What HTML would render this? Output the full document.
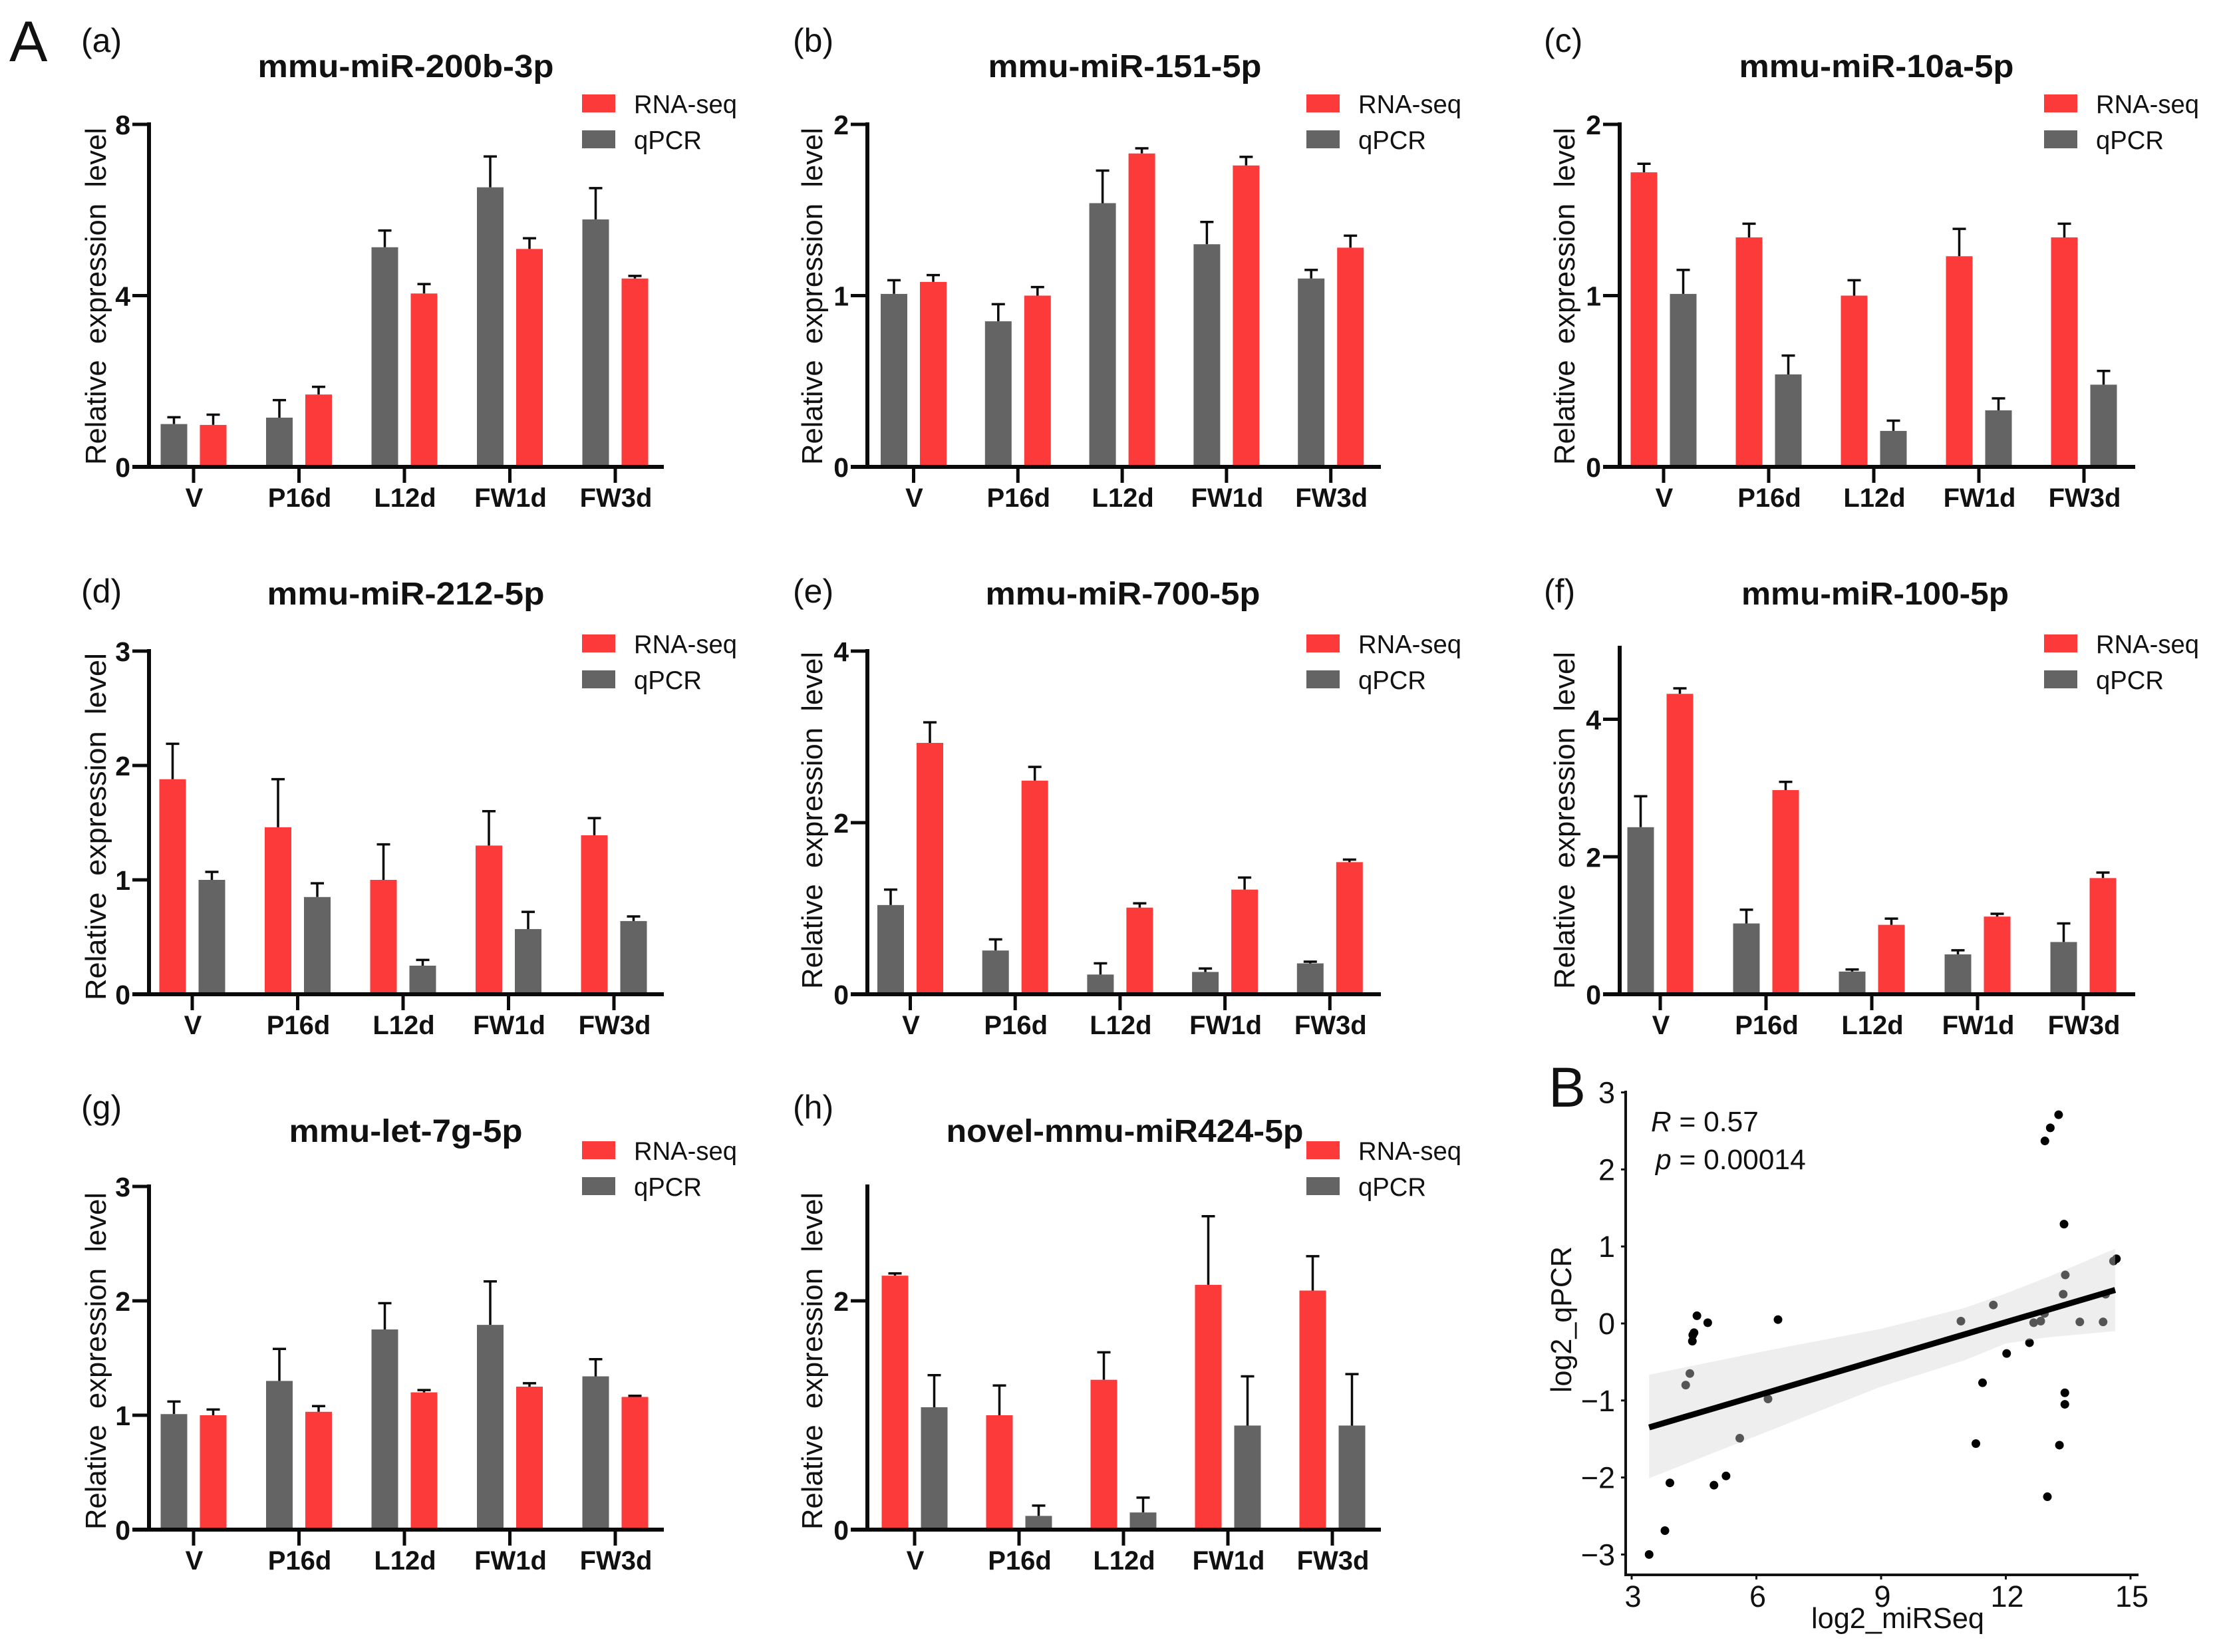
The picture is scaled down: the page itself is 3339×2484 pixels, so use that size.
<!DOCTYPE html>
<html lang="en">
<head>
<meta charset="utf-8">
<title>miRNA expression validation</title>
<style>
html,body{margin:0;padding:0;background:#fff;}
svg{display:block;}
text{font-family:"Liberation Sans",Arial,sans-serif;fill:#111;white-space:pre;}
</style>
</head>
<body>
<svg id="fig" xmlns="http://www.w3.org/2000/svg" width="3339" height="2484" viewBox="0 0 3339 2484">
<text x="14" y="92" font-size="86">A</text>
<text x="2328" y="1664" font-size="84">B</text>
</svg>
<script>
const categories = ['V','P16d','L12d','FW1d','FW3d'];

const a_qpcr = [1.0,1.15,5.13,6.53,5.78];
const a_qpcr_top = [1.16,1.56,5.52,7.25,6.51];
const a_rna = [0.98,1.69,4.05,5.09,4.4];
const a_rna_top = [1.22,1.87,4.27,5.34,4.46];
const a_ticks = [0,4,8];

const b_qpcr = [1.01,0.85,1.54,1.30,1.10];
const b_qpcr_top = [1.09,0.95,1.73,1.43,1.15];
const b_rna = [1.08,1.0,1.83,1.76,1.28];
const b_rna_top = [1.12,1.05,1.86,1.81,1.35];
const b_ticks = [0,1,2];

const c_rna = [1.72,1.34,1.0,1.23,1.34];
const c_rna_top = [1.77,1.42,1.09,1.39,1.42];
const c_qpcr = [1.01,0.54,0.21,0.33,0.48];
const c_qpcr_top = [1.15,0.65,0.27,0.40,0.56];
const c_ticks = [0,1,2];

const d_rna = [1.88,1.46,1.0,1.30,1.39];
const d_rna_top = [2.19,1.88,1.31,1.6,1.54];
const d_qpcr = [1.0,0.85,0.25,0.57,0.64];
const d_qpcr_top = [1.07,0.97,0.3,0.72,0.68];
const d_ticks = [0,1,2,3];

const e_qpcr = [1.04,0.51,0.23,0.26,0.36];
const e_qpcr_top = [1.22,0.64,0.36,0.3,0.38];
const e_rna = [2.93,2.49,1.01,1.22,1.54];
const e_rna_top = [3.17,2.65,1.06,1.36,1.57];
const e_ticks = [0,2,4];

const f_qpcr = [2.43,1.03,0.33,0.58,0.76];
const f_qpcr_top = [2.88,1.23,0.36,0.64,1.03];
const f_rna = [4.37,2.97,1.01,1.13,1.69];
const f_rna_top = [4.45,3.09,1.1,1.17,1.77];
const f_ticks = [0,2,4];

const g_qpcr = [1.01,1.3,1.75,1.79,1.34];
const g_qpcr_top = [1.12,1.58,1.98,2.17,1.49];
const g_rna = [1.0,1.03,1.2,1.25,1.16];
const g_rna_top = [1.05,1.08,1.22,1.28,1.17];
const g_ticks = [0,1,2,3];

const h_rna = [2.22,1.0,1.31,2.14,2.09];
const h_rna_top = [2.24,1.26,1.55,2.74,2.39];
const h_qpcr = [1.07,0.12,0.15,0.91,0.91];
const h_qpcr_top = [1.35,0.21,0.28,1.34,1.36];
const h_ticks = [0,2];

const scatter_x = [3.42,3.8,3.92,4.3,4.4,4.46,4.47,4.5,4.57,4.83,4.98,5.27,5.6,6.28,6.52,10.92,11.28,11.44,11.7,12.02,12.57,12.67,12.84,12.93,12.94,13.0,13.07,13.27,13.29,13.38,13.4,13.42,13.42,13.43,13.78,14.34,14.4,14.59,14.66];
const scatter_y = [-3.0,-2.69,-2.07,-0.8,-0.65,-0.23,-0.15,-0.12,0.1,0.01,-2.1,-1.98,-1.49,-0.98,0.05,0.03,-1.56,-0.77,0.24,-0.39,-0.25,0.01,0.03,0.13,2.37,-2.25,2.54,2.71,-1.58,0.38,1.29,-0.9,-1.05,0.63,0.02,0.02,0.38,0.81,0.84];
const fit_x = [3.42,14.63];
const fit_y = [-1.35,0.435];
const band_x = [3.42,6,9,11,12,13,14.63];
const band_upper = [-0.665,-0.38,-0.07,0.2,0.39,0.6,0.97];
const band_lower = [-2.01,-1.46,-0.82,-0.48,-0.26,-0.18,-0.1];
const scatter_x_ticks = [3,6,9,12,15];
const scatter_y_ticks = [-3,-2,-1,0,1,2,3];

const NS = 'http://www.w3.org/2000/svg';
const fig = document.getElementById('fig');
function mk(parent, tag, attrs, txt) {
  const el = document.createElementNS(NS, tag);
  for (const k in attrs) el.setAttribute(k, attrs[k]);
  if (txt !== undefined) el.textContent = txt;
  parent.appendChild(el);
  return el;
}

const RED = '#fd3a3a';
const GREY = '#646464';
const INK = '#0a0a0a';

const panels = [
  {id:'a', tag:'(a)', title:'mmu-miR-200b-3p', axisX:224, endX:998, y0:702, yTop:187, max:8, ticks:a_ticks, tick0:291, step:158.5, first:[a_qpcr,a_qpcr_top,GREY,'qpcr'], second:[a_rna,a_rna_top,RED,'rna-seq'], titleX:610, titleY:116, titleW:445, tagX:122, tagY:78, legX:875, legY:156, yTitleX:159, yTitleBottom:699, yTitleLen:507},
  {id:'b', tag:'(b)', title:'mmu-miR-151-5p', axisX:1304, endX:2076, y0:702, yTop:187, max:2, ticks:b_ticks, tick0:1373.5, step:156.8, first:[b_qpcr,b_qpcr_top,GREY,'qpcr'], second:[b_rna,b_rna_top,RED,'rna-seq'], titleX:1691, titleY:116, titleW:411, tagX:1192, tagY:78, legX:1964, legY:156, yTitleX:1236, yTitleBottom:699, yTitleLen:507},
  {id:'c', tag:'(c)', title:'mmu-miR-10a-5p', axisX:2435, endX:3210, y0:702, yTop:187, max:2, ticks:c_ticks, tick0:2501, step:158, first:[c_rna,c_rna_top,RED,'rna-seq'], second:[c_qpcr,c_qpcr_top,GREY,'qpcr'], titleX:2821, titleY:116, titleW:413, tagX:2321, tagY:78, legX:3073, legY:156, yTitleX:2367, yTitleBottom:699, yTitleLen:507},
  {id:'d', tag:'(d)', title:'mmu-miR-212-5p', axisX:224, endX:998, y0:1495, yTop:979, max:3, ticks:d_ticks, tick0:289, step:158.5, first:[d_rna,d_rna_top,RED,'rna-seq'], second:[d_qpcr,d_qpcr_top,GREY,'qpcr'], titleX:610, titleY:909, titleW:417, tagX:122, tagY:906, legX:875, legY:968, yTitleX:159, yTitleBottom:1504, yTitleLen:522},
  {id:'e', tag:'(e)', title:'mmu-miR-700-5p', axisX:1304, endX:2076, y0:1495, yTop:979, max:4, ticks:e_ticks, tick0:1368.5, step:157.7, first:[e_qpcr,e_qpcr_top,GREY,'qpcr'], second:[e_rna,e_rna_top,RED,'rna-seq'], titleX:1688, titleY:909, titleW:413, tagX:1192, tagY:906, legX:1964, legY:968, yTitleX:1236, yTitleBottom:1487, yTitleLen:507},
  {id:'f', tag:'(f)', title:'mmu-miR-100-5p', axisX:2435, endX:3210, y0:1495, yTop:974, max:5.04, ticks:f_ticks, tick0:2496, step:159, first:[f_qpcr,f_qpcr_top,GREY,'qpcr'], second:[f_rna,f_rna_top,RED,'rna-seq'], titleX:2819, titleY:909, titleW:402, tagX:2321, tagY:906, legX:3073, legY:968, yTitleX:2367, yTitleBottom:1487, yTitleLen:507},
  {id:'g', tag:'(g)', title:'mmu-let-7g-5p', axisX:224, endX:998, y0:2300, yTop:1784, max:3, ticks:g_ticks, tick0:291, step:158.5, first:[g_qpcr,g_qpcr_top,GREY,'qpcr'], second:[g_rna,g_rna_top,RED,'rna-seq'], titleX:610, titleY:1717, titleW:351, tagX:122, tagY:1682, legX:875, legY:1730, yTitleX:159, yTitleBottom:2300, yTitleLen:507},
  {id:'h', tag:'(h)', title:'novel-mmu-miR424-5p', axisX:1304, endX:2076, y0:2300, yTop:1784, max:3, ticks:h_ticks, tick0:1375, step:157, first:[h_rna,h_rna_top,RED,'rna-seq'], second:[h_qpcr,h_qpcr_top,GREY,'qpcr'], titleX:1691, titleY:1717, titleW:537, tagX:1192, tagY:1682, legX:1964, legY:1730, yTitleX:1236, yTitleBottom:2300, yTitleLen:507}
];

panels.forEach(function (p) {
  const g = mk(fig, 'g', {});
  
  
  const yScale = function (v) { return p.y0 - (v / p.max) * (p.y0 - p.yTop); };
  const xScale = function (i) { return p.tick0 + i * p.step; };

  const tagEl = mk(g, 'text', {x:p.tagX, y:p.tagY, 'font-size':50}, p.tag);
  
  

  const titleEl = mk(g, 'text', {x:p.titleX, y:p.titleY, 'font-size':48, 'font-weight':'bold', 'text-anchor':'middle', textLength:p.titleW, lengthAdjust:'spacingAndGlyphs'}, p.title);
  
  

  [[p.first, -1], [p.second, 1]].forEach(function (s) {
    const vals = s[0][0], tops = s[0][1], color = s[0][2], key = s[0][3], side = s[1];
    vals.forEach(function (v, i) {
      const cx = xScale(i) + side * 29.5;
      const eb = mk(g, 'path', {d:'M' + cx + ' ' + yScale(v) + 'V' + yScale(tops[i]) + 'M' + (cx - 10) + ' ' + yScale(tops[i]) + 'H' + (cx + 10), stroke:INK, 'stroke-width':3.5, fill:'none'});
      
      
      const bar = mk(g, 'rect', {x:cx - 20, y:yScale(v), width:40, height:p.y0 - yScale(v), fill:color});
      
      
    });
  });

  const yAxis = mk(g, 'line', {x1:p.axisX, x2:p.axisX, y1:p.yTop - 3, y2:p.y0 + 3, stroke:INK, 'stroke-width':6});
  
  
  const xAxis = mk(g, 'line', {x1:p.axisX - 25, x2:p.endX, y1:p.y0, y2:p.y0, stroke:INK, 'stroke-width':6});
  
  

  p.ticks.forEach(function (t) {
    const y = yScale(t);
    const tk = mk(g, 'line', {x1:p.axisX - 25, x2:p.axisX, y1:y, y2:y, stroke:INK, 'stroke-width':5});
    
    
    const lb = mk(g, 'text', {x:p.axisX - 28, y:y + 15, 'font-size':41, 'font-weight':'bold', 'text-anchor':'end'}, String(t));
    
    
  });

  categories.forEach(function (c, i) {
    const x = xScale(i);
    const tk = mk(g, 'line', {x1:x, x2:x, y1:p.y0, y2:p.y0 + 24, stroke:INK, 'stroke-width':5});
    
    
    const lb = mk(g, 'text', {x:x + 1, y:p.y0 + 60, 'font-size':40, 'font-weight':'bold', 'text-anchor':'middle'}, c);
    
    
  });

  const yTitle = mk(g, 'text', {transform:'translate(' + p.yTitleX + ' ' + p.yTitleBottom + ') rotate(-90)', x:0, y:0, 'font-size':44, textLength:p.yTitleLen, lengthAdjust:'spacingAndGlyphs'}, 'Relative  expression  level');
  
  

  const sw1 = mk(g, 'rect', {x:p.legX, y:p.legY - 14, width:50, height:27, fill:RED});
  
  
  const lt1 = mk(g, 'text', {x:p.legX + 78, y:p.legY + 14, 'font-size':39, textLength:155, lengthAdjust:'spacingAndGlyphs'}, 'RNA-seq');
  
  
  const sw2 = mk(g, 'rect', {x:p.legX, y:p.legY + 40, width:50, height:27, fill:GREY});
  
  
  const lt2 = mk(g, 'text', {x:p.legX + 78, y:p.legY + 68, 'font-size':39, textLength:102, lengthAdjust:'spacingAndGlyphs'}, 'qPCR');
  
  
});

/* Panel B scatter */
const sg = mk(fig, 'g', {});


const sx = function (v) { return 2453 + (v - 3) * 62.5; };
const sy = function (v) { return 1990 - v * 115.8; };

scatter_x.forEach(function (v, i) {
  const d = mk(sg, 'circle', {cx:sx(v), cy:sy(scatter_y[i]), r:6.5, fill:'#000'});
  
  
});

let bandPath = '';
band_x.forEach(function (v, i) { bandPath += (i ? 'L' : 'M') + sx(v) + ' ' + sy(band_upper[i]); });
for (let i = band_x.length - 1; i >= 0; i--) { bandPath += 'L' + sx(band_x[i]) + ' ' + sy(band_lower[i]); }
const band = mk(sg, 'path', {d:bandPath + 'Z', fill:'#d4d4d4', 'fill-opacity':0.4});



const fit = mk(sg, 'line', {x1:sx(fit_x[0]), y1:sy(fit_y[0]), x2:sx(fit_x[1]), y2:sy(fit_y[1]), stroke:'#000', 'stroke-width':9});



const sYAxis = mk(sg, 'line', {x1:2444, x2:2444, y1:1640, y2:2368, stroke:'#111', 'stroke-width':4});


const sXAxis = mk(sg, 'line', {x1:2442, x2:3215, y1:2368, y2:2368, stroke:'#111', 'stroke-width':4});



scatter_x_ticks.forEach(function (t) {
  const tk = mk(sg, 'line', {x1:sx(t), x2:sx(t), y1:2368, y2:2375, stroke:'#111', 'stroke-width':3});
  
  
  const lb = mk(sg, 'text', {x:sx(t) + 2, y:2416, 'font-size':45, 'text-anchor':'middle'}, String(t));
  
  
});
scatter_y_ticks.forEach(function (t) {
  const y = sy(t);
  const tk = mk(sg, 'line', {x1:2437, x2:2444, y1:y, y2:y, stroke:'#111', 'stroke-width':3});
  
  
  const lb = mk(sg, 'text', {x:2428, y:y + 16, 'font-size':45, 'text-anchor':'end'}, String(t).replace('-', '\u2212'));
  
  
});

const sxTitle = mk(sg, 'text', {x:2853, y:2448, 'font-size':44, 'text-anchor':'middle', textLength:260, lengthAdjust:'spacingAndGlyphs'}, 'log2_miRSeq');


const syTitle = mk(sg, 'text', {transform:'translate(2362 1984) rotate(-90)', x:0, y:0, 'font-size':44, 'text-anchor':'middle', textLength:220, lengthAdjust:'spacingAndGlyphs'}, 'log2_qPCR');



const rText = mk(sg, 'text', {x:2482, y:1701, 'font-size':42.5});


mk(rText, 'tspan', {'font-style':'italic'}, 'R');
mk(rText, 'tspan', {}, ' = 0.57');
const pText = mk(sg, 'text', {x:2489, y:1758, 'font-size':42.5});


mk(pText, 'tspan', {'font-style':'italic'}, 'p');
mk(pText, 'tspan', {}, ' = 0.00014');
</script>
</body>
</html>
